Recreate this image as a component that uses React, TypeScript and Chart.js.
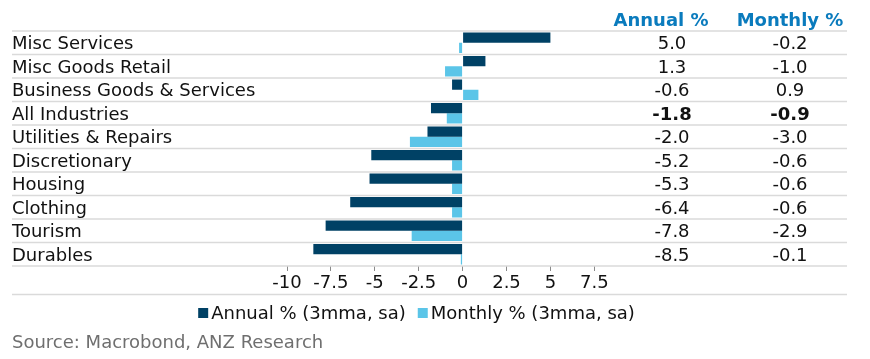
import React, { useEffect, useRef } from "react";
import { Chart, registerables } from "chart.js";

Chart.register(...registerables);

const categories = [
  "Misc Services",
  "Misc Goods Retail",
  "Business Goods & Services",
  "All Industries",
  "Utilities & Repairs",
  "Discretionary",
  "Housing",
  "Clothing",
  "Tourism",
  "Durables",
];
const annual = [5.0, 1.3, -0.6, -1.8, -2.0, -5.2, -5.3, -6.4, -7.8, -8.5];
const monthly = [-0.2, -1.0, 0.9, -0.9, -3.0, -0.6, -0.6, -0.6, -2.9, -0.1];
const xTicks = [-10, -7.5, -5, -2.5, 0, 2.5, 5, 7.5];
const seriesNames = ["Annual % (3mma, sa)", "Monthly % (3mma, sa)"];
const tableHeaders = ["Annual %", "Monthly %"];
const boldRow = "All Industries";
const sourceText = "Source: Macrobond, ANZ Research";

const DARK = "#004165";
const LIGHT = "#5bc5e8";
const HEADER = "#0a7bbd";
const FONT = "'DejaVu Sans', Verdana, sans-serif";
const FS = 18;
const W = 854;
const H = 343;

const extrasPlugin = {
  id: "extras",
  beforeDatasetsDraw(chart: any) {
    const { ctx } = chart;
    const y = chart.scales.y;
    ctx.save();
    ctx.strokeStyle = "#dadada";
    ctx.lineWidth = 1.5;
    for (let i = 0; i <= categories.length; i++) {
      const py = y.getPixelForValue(i - 0.5);
      ctx.beginPath();
      ctx.moveTo(4, py);
      ctx.lineTo(839, py);
      ctx.stroke();
    }
    ctx.restore();
  },
  afterDraw(chart: any) {
    const { ctx } = chart;
    const y = chart.scales.y;
    ctx.save();
    // headers
    ctx.font = `bold ${FS}px ${FONT}`;
    ctx.fillStyle = HEADER;
    ctx.textAlign = "center";
    ctx.textBaseline = "alphabetic";
    ctx.fillText(tableHeaders[0], 653, 18);
    ctx.fillText(tableHeaders[1], 782, 18);
    // category labels and table values
    ctx.fillStyle = "#111";
    categories.forEach((c, i) => {
      const py = y.getPixelForValue(i) + 6.5;
      ctx.font = `${FS}px ${FONT}`;
      ctx.textAlign = "left";
      ctx.fillText(c, 4, py);
      ctx.textAlign = "center";
      ctx.font = `${c === boldRow ? "bold " : ""}${FS}px ${FONT}`;
      ctx.fillText(annual[i].toFixed(1), 664, py);
      ctx.fillText(monthly[i].toFixed(1), 782, py);
    });
    // bottom separator
    ctx.strokeStyle = "#dadada";
    ctx.lineWidth = 1.5;
    ctx.beginPath();
    ctx.moveTo(4, 286.5);
    ctx.lineTo(839, 286.5);
    ctx.stroke();
    // legend
    ctx.font = `${FS}px ${FONT}`;
    ctx.textAlign = "left";
    const colors = [DARK, LIGHT];
    const box = 10;
    const gapBoxText = 3;
    const gapItems = 12;
    const widths = seriesNames.map((s) => ctx.measureText(s).width);
    const total =
      widths.reduce((a, b) => a + b, 0) +
      seriesNames.length * (box + gapBoxText) +
      gapItems * (seriesNames.length - 1);
    let x = 408.5 - total / 2;
    seriesNames.forEach((s, i) => {
      ctx.fillStyle = colors[i];
      ctx.fillRect(x, 300, box, box);
      x += box + gapBoxText;
      ctx.fillStyle = "#111";
      ctx.fillText(s, x, 311);
      x += widths[i] + gapItems;
    });
    // source
    ctx.fillStyle = "#6f6f6f";
    ctx.fillText(sourceText, 4, 340);
    ctx.restore();
  },
};

export default function App() {
  const ref = useRef<HTMLCanvasElement | null>(null);
  useEffect(() => {
    if (!ref.current) return;
    const chart = new Chart(ref.current, {
      type: "bar",
      data: {
        labels: categories,
        datasets: [
          {
            label: seriesNames[0],
            data: annual,
            backgroundColor: DARK,
            borderWidth: 0,
            categoryPercentage: 0.87,
            barPercentage: 1,
          },
          {
            label: seriesNames[1],
            data: monthly,
            backgroundColor: LIGHT,
            borderWidth: 0,
            categoryPercentage: 0.87,
            barPercentage: 1,
          },
        ],
      },
      options: {
        indexAxis: "y",
        responsive: false,
        animation: false,
        devicePixelRatio: 1,
        layout: { padding: { left: 4, right: 267.7, top: 23, bottom: 55 } },
        plugins: {
          legend: { display: false },
          tooltip: { enabled: false },
          title: { display: false },
        },
        scales: {
          x: {
            type: "linear",
            min: xTicks[0],
            max: xTicks[xTicks.length - 1],
            afterBuildTicks: (axis: any) => {
              axis.ticks = xTicks.map((v) => ({ value: v }));
            },
            afterFit: (scale: any) => {
              scale.height = 30;
            },
            border: { display: false },
            grid: {
              drawOnChartArea: false,
              drawTicks: true,
              tickLength: 5,
              color: "#8a8a8a",
            },
            ticks: {
              padding: 2,
              color: "#111",
              font: { family: FONT, size: FS },
              maxRotation: 0,
              autoSkip: false,
              callback: (v: any) => String(v),
            },
          },
          y: {
            type: "category",
            afterFit: (scale: any) => {
              scale.width = 275;
            },
            border: { display: false },
            grid: { display: false, drawTicks: false },
            ticks: { display: false },
          },
        },
      },
      plugins: [extrasPlugin],
    } as any);
    return () => chart.destroy();
  }, []);
  return (
    <div style={{ width: W, height: H }}>
      <canvas ref={ref} width={W} height={H} style={{ display: "block", width: W, height: H }} />
    </div>
  );
}
